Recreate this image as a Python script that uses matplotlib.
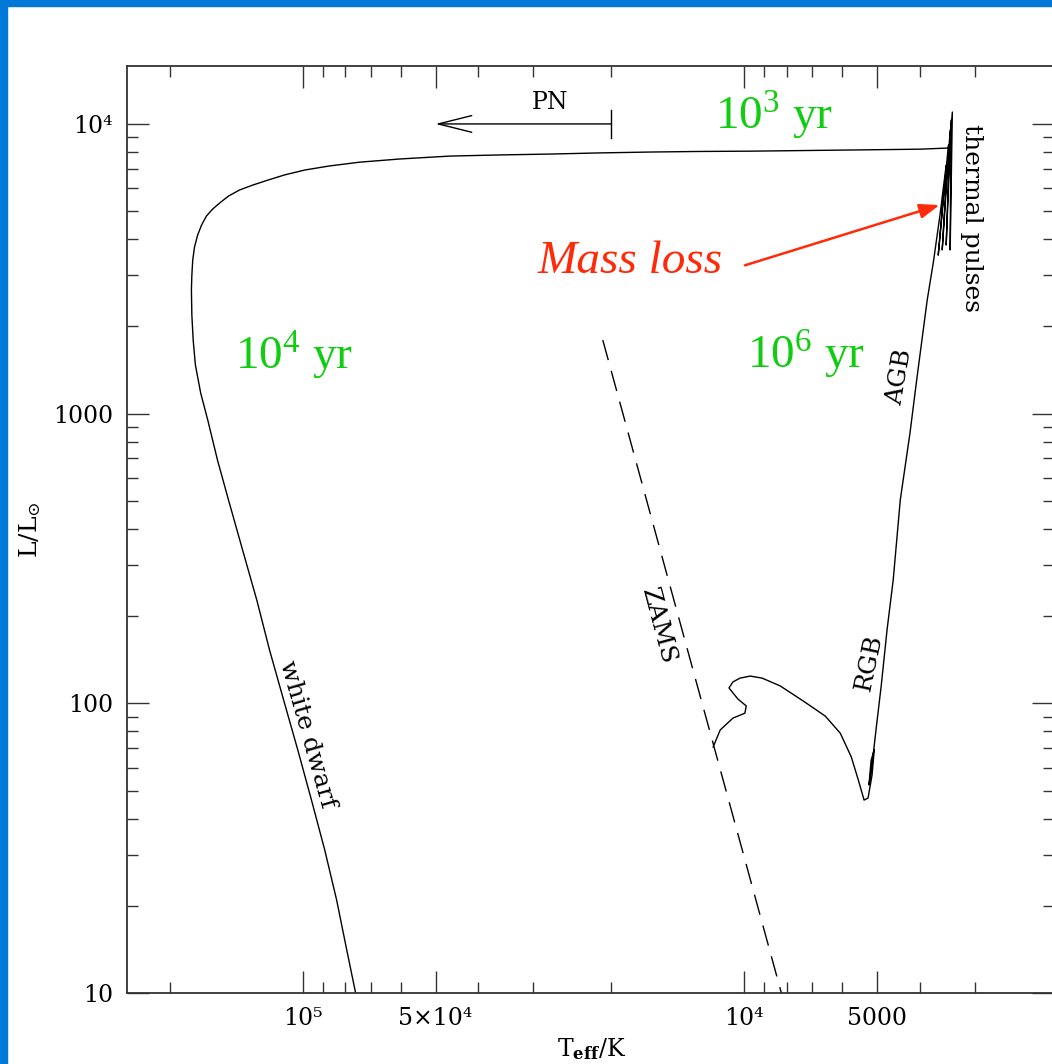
import numpy as np
import matplotlib.pyplot as plt
from matplotlib.patches import Rectangle
from matplotlib.ticker import FixedLocator, FixedFormatter, NullFormatter

plt.rcParams['font.family'] = 'DejaVu Serif'
plt.rcParams['mathtext.fontset'] = 'dejavuserif'

# evolutionary track (log Teff, log L/Lsun)
# main sequence -> subgiant -> RGB -> AGB
ms_logT = [4.070, 4.054, 4.025, 3.998, 3.995, 4.014, 4.034, 4.025, 4.009, 3.986,
           3.959, 3.918, 3.862, 3.816, 3.782, 3.757, 3.741, 3.728, 3.719, 3.710,
           3.705, 3.712, 3.717, 3.710, 3.701, 3.689, 3.676, 3.662, 3.646, 3.624,
           3.608, 3.585, 3.571]
ms_logL = [1.849, 1.908, 1.949, 1.966, 1.991, 2.015, 2.053, 2.074, 2.087, 2.094,
           2.087, 2.060, 2.004, 1.956, 1.897, 1.815, 1.735, 1.666, 1.673, 1.752,
           1.839, 1.804, 1.718, 1.787, 1.908, 2.063, 2.253, 2.426, 2.702, 2.933,
           3.126, 3.392, 3.523]
# thermal pulses
tp_logT = [3.556, 3.542, 3.560, 3.537, 3.551, 3.533, 3.542, 3.531, 3.533, 3.528, 3.535]
tp_logL = [3.686, 3.858, 3.547, 3.927, 3.565, 3.979, 3.582, 4.013, 3.565, 4.041, 3.917]
# post-AGB / PN / white dwarf cooling
wd_logT = [3.599, 3.646, 3.760, 3.873, 3.986, 4.100, 4.213, 4.327, 4.440, 4.553,
           4.667, 4.780, 4.871, 4.939, 4.995, 5.041, 5.079, 5.113, 5.143, 5.168,
           5.188, 5.204, 5.218, 5.229, 5.238, 5.245, 5.249, 5.251, 5.252, 5.251,
           5.248, 5.243, 5.231, 5.215, 5.193, 5.168, 5.136, 5.104, 5.075, 5.043,
           5.011, 4.980, 4.950, 4.923, 4.900, 4.880, 4.875]
wd_logL = [3.913, 3.912, 3.910, 3.908, 3.906, 3.905, 3.903, 3.900, 3.896, 3.893,
           3.889, 3.879, 3.868, 3.855, 3.841, 3.824, 3.806, 3.789, 3.772, 3.751,
           3.727, 3.706, 3.682, 3.651, 3.616, 3.575, 3.530, 3.478, 3.427, 3.340,
           3.254, 3.168, 3.071, 2.978, 2.840, 2.702, 2.529, 2.357, 2.184, 2.011,
           1.839, 1.666, 1.494, 1.321, 1.148, 1.000, 0.965]

# zero-age main sequence
zams_logT = [4.320, 3.910]
zams_logL = [3.254, 0.970]

# PN arrow
pn_T = [2.0e4, 5.0e4]
pn_L = 1.0e4
pn_bar_L = [8.95e3, 1.12e4]

xmajor = [1e5, 5e4, 1e4, 5000]
xmajor_labels = ['10⁵', '5×10⁴', '10⁴', '5000']
xminor = [2e5, 9e4, 8e4, 7e4, 6e4, 4e4, 3e4, 2e4, 9000, 8000, 7000, 6000, 4000, 3000]
ymajor = [10, 100, 1000, 1e4]
ymajor_labels = ['10', '100', '1000', '10⁴']

W, H = 1052, 1064
fig = plt.figure(figsize=(W / 100, H / 100), dpi=100)
ax = fig.add_axes([127 / W, 71 / H, 926.5 / W, 927 / H])

logT = np.array(ms_logT + tp_logT + wd_logT)
logL = np.array(ms_logL + tp_logL + wd_logL)
ax.plot(10 ** logT, 10 ** logL, color='black', lw=1.0)
ax.plot(10 ** np.array(zams_logT), 10 ** np.array(zams_logL), color='black', lw=1.0,
        dashes=(15, 8))

ax.set_xscale('log')
ax.set_yscale('log')
ax.set_xlim(2.5e5, 1990)
ax.set_ylim(10, 10 ** 4.2)

ax.xaxis.set_major_locator(FixedLocator(xmajor))
ax.xaxis.set_major_formatter(FixedFormatter(xmajor_labels))
ax.xaxis.set_minor_locator(FixedLocator(xminor))
ax.xaxis.set_minor_formatter(NullFormatter())
ax.yaxis.set_major_locator(FixedLocator(ymajor))
ax.yaxis.set_major_formatter(FixedFormatter(ymajor_labels))
ax.yaxis.set_minor_locator(FixedLocator([m * d for d in [10, 100, 1000, 1e4] for m in range(2, 10)]))
ax.yaxis.set_minor_formatter(NullFormatter())

ax.tick_params(which='both', direction='in', top=True, right=True, color='#333333', width=1.0)
ax.tick_params(which='major', length=16, labelsize=17, pad=10)
ax.tick_params(which='minor', length=8)
for s in ax.spines.values():
    s.set_linewidth(1.3)
    s.set_color('#333333')

ax.set_xlabel(r'T$_{\mathbf{eff}}$/K', fontsize=17)
ax.xaxis.set_label_coords(0.502, -0.047)
ax.set_ylabel(r'L/L$_{\odot}$', fontsize=18)
ax.yaxis.set_label_coords(-0.091, 0.50)

# PN arrow
ax.annotate('', xy=(pn_T[1], pn_L), xytext=(pn_T[0], pn_L),
            arrowprops=dict(arrowstyle='->,head_length=1.2,head_width=0.3', mutation_scale=20,
                            lw=1.0, color='black', shrinkA=0, shrinkB=0))
ax.plot([pn_T[0], pn_T[0]], pn_bar_L, color='black', lw=1.0)
ax.text(0.457, 0.961, 'PN', transform=ax.transAxes, fontsize=17, ha='center', va='center')

# curve labels
ax.text(0.911, 0.836, 'thermal pulses', transform=ax.transAxes, fontsize=18,
        rotation=-90, ha='center', va='center')
ax.text(0.834, 0.664, 'AGB', transform=ax.transAxes, fontsize=18,
        rotation=80, ha='center', va='center')
ax.text(0.801, 0.356, 'RGB', transform=ax.transAxes, fontsize=18,
        rotation=78, ha='center', va='center')
ax.text(0.573, 0.396, 'ZAMS', transform=ax.transAxes, fontsize=18,
        rotation=-75, ha='center', va='center')
ax.text(0.195, 0.279, 'white dwarf', transform=ax.transAxes, fontsize=18,
        rotation=-74, ha='center', va='center')

# timescales
green = '#11CC11'
for fx, fy, s in [(0.698, 0.931, '3'), (0.180, 0.672, '4'), (0.733, 0.674, '6')]:
    ax.text(fx, fy, '10$^{\\mathregular{%s}}$ yr' % s, transform=ax.transAxes,
            family='Liberation Serif', fontsize=34, color=green, ha='center', va='baseline')

red = '#FF2A0A'
ax.text(0.543, 0.777, 'Mass loss', transform=ax.transAxes, family='Liberation Serif',
        style='italic', fontsize=34, color=red, ha='center', va='baseline')
ax.annotate('', xy=(0.877, 0.850), xytext=(0.667, 0.785), xycoords='axes fraction',
            textcoords='axes fraction',
            arrowprops=dict(arrowstyle='-|>,head_length=0.6,head_width=0.22', mutation_scale=20,
                            lw=1.8, color=red, shrinkA=0, shrinkB=0))

# blue frame
blue = '#0078D7'
fig.patches.append(Rectangle((0, 0), 7 / W, 1, transform=fig.transFigure, color=blue, zorder=10))
fig.patches.append(Rectangle((0, 1 - 6 / H), 1, 6 / H, transform=fig.transFigure, color=blue, zorder=10))

fig.savefig('out.png', dpi=100)
